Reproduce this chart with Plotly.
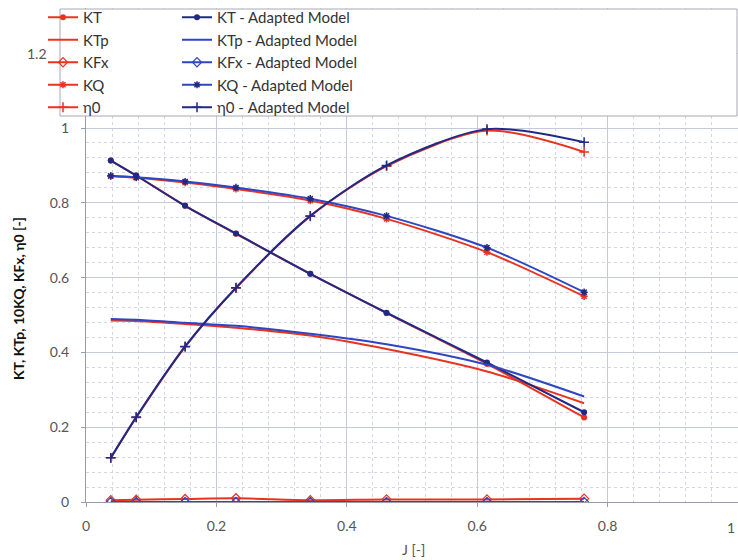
import plotly.graph_objects as go

# ---------------- data ----------------
J = [0.038, 0.077, 0.152, 0.230, 0.344, 0.461, 0.615, 0.764]

KT = [0.913, 0.873, 0.792, 0.717, 0.610, 0.505, 0.369, 0.226]
KT_adapted = [0.913, 0.873, 0.792, 0.718, 0.610, 0.506, 0.373, 0.240]

KTp = [0.485, 0.484, 0.476, 0.466, 0.445, 0.409, 0.349, 0.264]
KTp_adapted = [0.489, 0.487, 0.479, 0.471, 0.450, 0.422, 0.367, 0.282]

KFx = [0.005, 0.006, 0.008, 0.010, 0.005, 0.007, 0.007, 0.009]
KFx_adapted = [0.000, 0.000, 0.000, 0.000, 0.000, 0.000, 0.000, 0.000]

KQ10 = [0.871, 0.867, 0.854, 0.837, 0.806, 0.757, 0.668, 0.550]
KQ10_adapted = [0.872, 0.868, 0.857, 0.841, 0.811, 0.765, 0.680, 0.561]

eta0 = [0.118, 0.226, 0.415, 0.572, 0.764, 0.898, 0.993, 0.936]
eta0_adapted = [0.118, 0.227, 0.416, 0.573, 0.765, 0.900, 0.997, 0.962]

y_ticks = [0, 0.2, 0.4, 0.6, 0.8, 1.0, 1.2]
y_tick_text = ["0", "0.2", "0.4", "0.6", "0.8", "1", ""]
x_ticks = [0, 0.2, 0.4, 0.6, 0.8, 1.0]
x_tick_text = ["0", "0.2", "0.4", "0.6", "0.8", ""]

# ---------------- styling ----------------
W, H = 738, 560
ML, MR, MT, MB = 86, 0, 8, 58
PW, PH = W - ML - MR, H - MT - MB
Y_MAX = PH / 374.0

RED = "#e8341f"
NAVY = "#1e2a86"
BLUE = "#2e46c4"
FONT = "Lato, 'Open Sans', sans-serif"


def px(p):
    return (p - ML) / PW


def py(p):
    return (H - MB - p) / PH


fig = go.Figure()

red_specs = [
    ("KT", KT, dict(symbol="circle", size=6, color=RED), "lines+markers"),
    ("KTp", KTp, None, "lines"),
    ("KFx", KFx, dict(symbol="diamond-open", size=7, color=RED, line=dict(width=1.2, color=RED)), "lines+markers"),
    ("KQ", KQ10, dict(symbol="asterisk-open", size=6, color=RED, line=dict(width=1.5, color=RED)), "lines+markers"),
    ("η0", eta0, dict(symbol="cross-thin-open", size=7, color=RED, line=dict(width=1.5, color=RED)), "lines+markers"),
]
blue_specs = [
    ("KT - Adapted Model", KT_adapted, NAVY, dict(symbol="circle", size=6, color=NAVY), "lines+markers"),
    ("KTp - Adapted Model", KTp_adapted, BLUE, None, "lines"),
    ("KFx - Adapted Model", KFx_adapted, BLUE, dict(symbol="diamond-open", size=7, color=BLUE, line=dict(width=1.2, color=BLUE)), "lines+markers"),
    ("KQ - Adapted Model", KQ10_adapted, BLUE, dict(symbol="asterisk-open", size=6, color=NAVY, line=dict(width=1.5, color=NAVY)), "lines+markers"),
    ("η0 - Adapted Model", eta0_adapted, NAVY, dict(symbol="cross-thin-open", size=7, color=NAVY, line=dict(width=1.5, color=NAVY)), "lines+markers"),
]

for name, ys, mk, mode in red_specs:
    tr = dict(x=J, y=ys, name=name, mode=mode, legend="legend",
              line=dict(color=RED, width=2, shape="spline", smoothing=0.8))
    if mk:
        tr["marker"] = mk
    fig.add_trace(go.Scatter(**tr))

for name, ys, col, mk, mode in blue_specs:
    tr = dict(x=J, y=ys, name=name, mode=mode, legend="legend2",
              line=dict(color=col, width=2, shape="spline", smoothing=0.8))
    if mk:
        tr["marker"] = mk
    fig.add_trace(go.Scatter(**tr))

grid_major = "#c6c9dc"
grid_minor = "#d3d6e4"

fig.update_layout(
    width=W, height=H,
    margin=dict(l=ML, r=MR, t=MT, b=MB),
    paper_bgcolor="white", plot_bgcolor="white",
    font=dict(family=FONT, size=14, color="#555555"),
    showlegend=True,
    xaxis=dict(
        range=[0, 1.0], tickvals=x_ticks, ticktext=x_tick_text,
        showgrid=True, gridcolor=grid_major, gridwidth=1,
        showline=True, linecolor="#9a9ab0", linewidth=1,
        ticks="outside", ticklen=4, tickcolor="#9a9ab0",
        ticklabelstandoff=7,
        tickfont=dict(size=14, color="#555555"),
        minor=dict(dtick=0.04, showgrid=True, gridcolor=grid_minor, griddash="dot", gridwidth=1),
        zeroline=False,
    ),
    yaxis=dict(
        range=[0, Y_MAX], tickvals=y_ticks, ticktext=y_tick_text,
        showgrid=True, gridcolor=grid_major, gridwidth=1,
        showline=True, linecolor="#9a9ab0", linewidth=1,
        ticks="outside", ticklen=4, tickcolor="#9a9ab0",
        ticklabelstandoff=9,
        tickfont=dict(size=14, color="#555555"),
        minor=dict(dtick=0.04, showgrid=True, gridcolor=grid_minor, griddash="dot", gridwidth=1),
        zeroline=False,
    ),
    legend=dict(
        x=px(43), y=py(1), xanchor="left", yanchor="top",
        bgcolor="rgba(0,0,0,0)", borderwidth=0,
        font=dict(size=15, color="#333333", family=FONT),
        itemwidth=30,
    ),
    legend2=dict(
        x=px(177), y=py(1), xanchor="left", yanchor="top",
        bgcolor="rgba(0,0,0,0)", borderwidth=0,
        font=dict(size=15, color="#333333", family=FONT),
        itemwidth=30,
    ),
    shapes=[
        dict(type="rect", xref="paper", yref="paper",
             x0=px(60), x1=px(737), y0=py(116), y1=py(9),
             fillcolor="white", line=dict(color="#a8a8b4", width=1), layer="above"),
    ],
    annotations=[
        dict(text="1.2", xref="paper", yref="paper", x=px(37), y=py(54),
             showarrow=False, xanchor="center", yanchor="middle",
             font=dict(size=14, color="#555555", family=FONT)),
        dict(text="1", xref="paper", yref="paper", x=px(737), y=py(527),
             showarrow=False, xanchor="right", yanchor="middle",
             font=dict(size=14, color="#555555", family=FONT)),
        dict(text="<b>KT, KTp, 10KQ, KFx, η0 [-]</b>", xref="paper", yref="paper",
             x=px(18), y=py(299), textangle=-90, showarrow=False,
             xanchor="center", yanchor="middle",
             font=dict(size=14, color="#111111", family=FONT)),
        dict(text="J [-]", xref="paper", yref="paper", x=px(413), y=py(549),
             showarrow=False, xanchor="center", yanchor="middle",
             font=dict(size=14, color="#555555", family=FONT)),
    ],
)

fig.write_html("out.html")
